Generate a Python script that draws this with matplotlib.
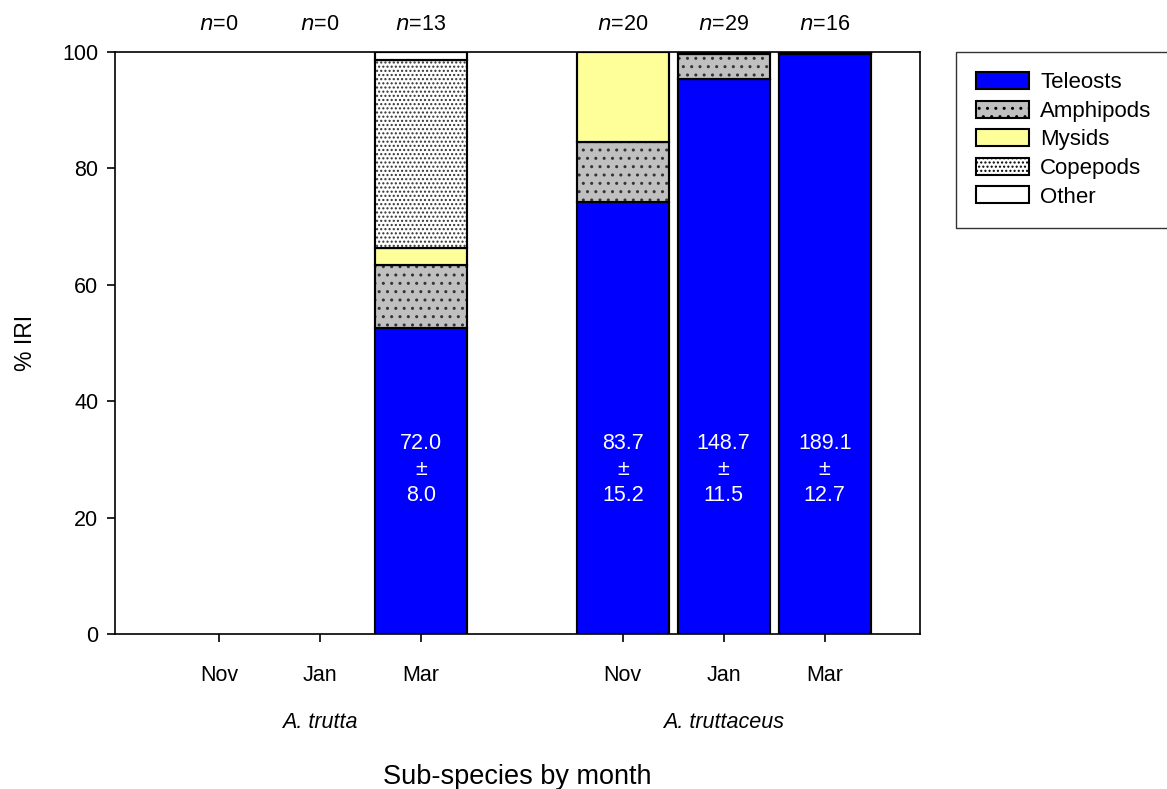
import matplotlib
matplotlib.use("Agg")
import matplotlib.pyplot as plt
import numpy as np

plt.rcParams['font.family'] = ['Liberation Sans', 'DejaVu Sans']
plt.rcParams['hatch.linewidth'] = 1.0

months = ["Nov", "Jan", "Mar", "Nov", "Jan", "Mar"]
groups = ["A. trutta", "A. truttaceus"]
n_counts = [0, 0, 13, 20, 29, 16]
categories = ["Teleosts", "Amphipods", "Mysids", "Copepods", "Other"]
teleosts  = [0, 0, 52.6, 74.3, 95.3, 99.6]
amphipods = [0, 0, 10.8, 10.2, 4.4, 0.2]
mysids    = [0, 0, 2.9, 15.5, 0.0, 0.0]
copepods  = [0, 0, 32.4, 0.0, 0.0, 0.0]
other     = [0, 0, 1.3, 0.0, 0.3, 0.2]
bar_labels = ["", "", "72.0\n±\n8.0", "83.7\n±\n15.2", "148.7\n±\n11.5", "189.1\n±\n12.7"]

series = [teleosts, amphipods, mysids, copepods, other]
styles = [
    dict(facecolor="#0000ff", hatch=None),
    dict(facecolor="#c0c0c0", hatch=".."),
    dict(facecolor="#ffff99", hatch=None),
    dict(facecolor="#ffffff", hatch="...."),
    dict(facecolor="#ffffff", hatch=None),
]

FS = 15.5

fig = plt.figure(figsize=(11.67, 7.89), dpi=100)
ax = fig.add_axes([0.0985, 0.1965, 0.6895, 0.7375])

x = np.array([0, 1, 2, 4, 5, 6], dtype=float)
bottom = np.zeros(len(x))
for name, vals, st in zip(categories, series, styles):
    vals = np.array(vals, dtype=float)
    mask = vals > 0
    ax.bar(x[mask], vals[mask], width=0.91, bottom=bottom[mask],
           facecolor=st["facecolor"], edgecolor="#333333" if st["hatch"] else "black",
           linewidth=1.5, hatch=st["hatch"])
    ax.bar(x[mask], vals[mask], width=0.91, bottom=bottom[mask],
           facecolor="none", edgecolor="black", linewidth=1.5)
    # legend proxy
    ax.bar([np.nan], [np.nan], label=name, facecolor=st["facecolor"],
           edgecolor="black", linewidth=1.5, hatch=st["hatch"])
    bottom += vals

for xi, lab in zip(x, bar_labels):
    if lab:
        ax.text(xi, 28.3, lab, ha="center", va="center", color="white",
                fontsize=FS, linespacing=1.3)

for xi, n in zip(x, n_counts):
    ax.text(xi, 103.0, f"$n$={n}", ha="center", va="bottom", fontsize=FS)

ax.set_xlim(-1.03, 6.94)
ax.set_ylim(0, 100)
ax.set_yticks([0, 20, 40, 60, 80, 100])
ax.set_xticks(x)
ax.set_xticklabels(months, fontsize=FS)
ax.tick_params(axis="x", length=6, width=1.2, direction="out", pad=16)
ax.tick_params(axis="y", labelsize=FS, length=6, width=1.2, direction="out", pad=6)
ax.set_ylabel("% IRI", fontsize=FS + 1, labelpad=18)
for s in ax.spines.values():
    s.set_linewidth(1.2)

ax.text(1, -15.3, groups[0], ha="center", va="center", style="italic", fontsize=FS)
ax.text(5, -15.3, groups[1], ha="center", va="center", style="italic", fontsize=FS)
ax.text(2.95, -24.6, "Sub-species by month", ha="center", va="center",
        fontsize=19.5, clip_on=False)

leg = ax.legend(loc="upper left", bbox_to_anchor=(1.045, 1.0), fontsize=16,
                frameon=True, fancybox=False, edgecolor="black",
                handlelength=2.4, handleheight=0.8, labelspacing=0.33,
                borderpad=0.9, handletextpad=0.5, borderaxespad=0)
leg.get_frame().set_linewidth(1.0)

fig.savefig("out.png", dpi=100)
